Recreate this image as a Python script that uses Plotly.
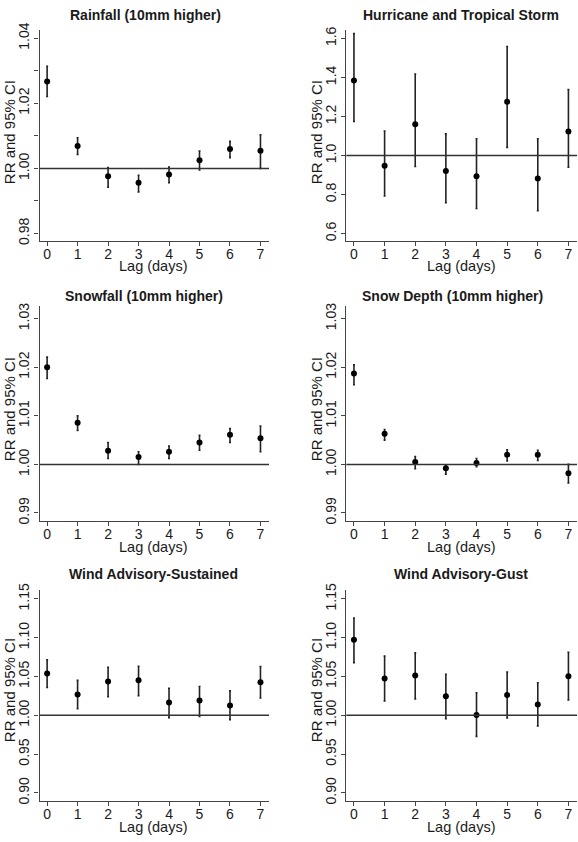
import plotly.graph_objects as go

lags = [0, 1, 2, 3, 4, 5, 6, 7]

titles = [
    "Rainfall (10mm higher)",
    "Hurricane and Tropical Storm",
    "Snowfall (10mm higher)",
    "Snow Depth (10mm higher)",
    "Wind Advisory-Sustained",
    "Wind Advisory-Gust",
]

rainfall_rr = [1.0267, 1.0069, 0.9976, 0.9956, 0.9981, 1.0025, 1.0060, 1.0054]
rainfall_lo = [1.0221, 1.0043, 0.9942, 0.9928, 0.9956, 0.9995, 1.0033, 1.0000]
rainfall_hi = [1.0314, 1.0094, 1.0003, 0.9979, 1.0004, 1.0053, 1.0083, 1.0103]

hurricane_rr = [1.385, 0.948, 1.160, 0.921, 0.894, 1.276, 0.882, 1.123]
hurricane_lo = [1.175, 0.793, 0.944, 0.758, 0.729, 1.042, 0.717, 0.941]
hurricane_hi = [1.625, 1.126, 1.418, 1.111, 1.086, 1.559, 1.086, 1.338]

snowfall_rr = [1.0200, 1.0086, 1.0028, 1.0015, 1.0026, 1.0045, 1.0061, 1.0054]
snowfall_lo = [1.0177, 1.0070, 1.0012, 1.0000, 1.0012, 1.0029, 1.0045, 1.0026]
snowfall_hi = [1.0221, 1.0100, 1.0045, 1.0026, 1.0038, 1.0060, 1.0074, 1.0079]

snowdepth_rr = [1.0187, 1.0063, 1.0005, 0.9992, 1.0003, 1.0020, 1.0020, 0.9982]
snowdepth_lo = [1.0164, 1.0050, 0.9991, 0.9980, 0.9995, 1.0007, 1.0008, 0.9962]
snowdepth_hi = [1.0205, 1.0072, 1.0016, 0.9999, 1.0012, 1.0030, 1.0029, 1.0000]

sustained_rr = [1.0540, 1.0270, 1.0435, 1.0451, 1.0165, 1.0190, 1.0127, 1.0426]
sustained_lo = [1.0359, 1.0084, 1.0240, 1.0253, 0.9970, 0.9987, 0.9945, 1.0224]
sustained_hi = [1.0717, 1.0451, 1.0620, 1.0633, 1.0350, 1.0371, 1.0316, 1.0629]

gust_rr = [1.0975, 1.0475, 1.0513, 1.0246, 1.0004, 1.0263, 1.0140, 1.0504]
gust_lo = [1.0680, 1.0186, 1.0212, 0.9958, 0.9729, 0.9966, 0.9864, 1.0199]
gust_hi = [1.1255, 1.0763, 1.0805, 1.0530, 1.0292, 1.0559, 1.0420, 1.0814]

series = [
    (rainfall_rr, rainfall_lo, rainfall_hi),
    (hurricane_rr, hurricane_lo, hurricane_hi),
    (snowfall_rr, snowfall_lo, snowfall_hi),
    (snowdepth_rr, snowdepth_lo, snowdepth_hi),
    (sustained_rr, sustained_lo, sustained_hi),
    (gust_rr, gust_lo, gust_hi),
]

y_ranges = [
    [0.9776, 1.0424],
    [0.5606, 1.6414],
    [0.98828, 1.03255],
    [0.98828, 1.03255],
    [0.8898, 1.1612],
    [0.8898, 1.1612],
]
y_ticks = [
    [0.98, 1.00, 1.02, 1.04],
    [0.6, 0.8, 1.0, 1.2, 1.4, 1.6],
    [0.99, 1.00, 1.01, 1.02, 1.03],
    [0.99, 1.00, 1.01, 1.02, 1.03],
    [0.90, 0.95, 1.00, 1.05, 1.10, 1.15],
    [0.90, 0.95, 1.00, 1.05, 1.10, 1.15],
]
y_fmt = [".2f", ".1f", ".2f", ".2f", ".2f", ".2f"]
ref_value = 1.0

W, H = 578, 842
FONT = "Arial, Liberation Sans, sans-serif"
INK = "#1a1a1a"
LINE = "#444444"

# pixel geometry of plot areas (left, right, top, bottom)
cols = [(39.5, 269.0), (346.3, 577.0)]
rows = [(22.7, 236.7), (302.7, 520.7), (590.7, 804.3)]

title_pos = [(145, 7), (461, 7), (144, 292), (452, 292), (153, 574), (461, 574)]
ytitle_x = [9, 316]
ytitle_y = [126, 407, 692]
xtitle_y = [262, 547, 831]
xtitle_x = [153, 461]

fig = go.Figure()
layout = dict(
    width=W, height=H,
    margin=dict(l=0, r=0, t=0, b=0),
    paper_bgcolor="white", plot_bgcolor="white",
    showlegend=False,
    font=dict(family=FONT, color=INK, size=14),
)
annotations = []
shapes = []

for i, (rr, lo, hi) in enumerate(series):
    r, c = divmod(i, 2)
    ax = "" if i == 0 else str(i + 1)
    xa, ya = "x" + ax, "y" + ax
    plus = [h - v for h, v in zip(hi, rr)]
    minus = [v - l for v, l in zip(rr, lo)]
    fig.add_trace(go.Scatter(
        x=lags, y=rr, mode="markers", xaxis=xa, yaxis=ya, cliponaxis=False,
        marker=dict(color="black", size=6),
        error_y=dict(type="data", symmetric=False, array=plus, arrayminus=minus,
                     color="#222222", thickness=1.6, width=1),
    ))
    l, rgt = cols[c]
    top, bot = rows[r]
    xdom = [l / W, rgt / W]
    ydom = [1 - bot / H, 1 - top / H]
    layout["xaxis" + ax] = dict(
        domain=xdom, anchor=ya, range=[-0.25, 7.28],
        tickvals=lags, ticks="outside", ticklen=4, tickwidth=1, tickcolor=LINE,
        ticklabelstandoff=-4,
        showline=True, linecolor=LINE, linewidth=1.2, showgrid=False, zeroline=False,
        tickfont=dict(size=14, family=FONT, color=INK),
    )
    yax = dict(
        domain=ydom, anchor=xa, range=y_ranges[i],
        tickvals=y_ticks[i], tickformat=y_fmt[i], tickangle=-90,
        ticks="outside", ticklen=4, tickwidth=1, tickcolor=LINE,
        showline=True, linecolor=LINE, linewidth=1.2, showgrid=False, zeroline=False,
        tickfont=dict(size=14, family=FONT, color=INK),
    )
    if i == 0:
        yax["minor"] = dict(tickvals=[0.99, 1.01, 1.03], ticks="outside", ticklen=4,
                            tickcolor=LINE, showgrid=False)
    layout["yaxis" + ax] = yax
    shapes.append(dict(type="line", xref=xa + " domain", yref=ya,
                       x0=0, x1=1, y0=ref_value, y1=ref_value,
                       line=dict(color="#333333", width=1.5)))
    tx, ty = title_pos[i]
    annotations.append(dict(text="<b>" + titles[i] + "</b>", x=tx / W, y=1 - ty / H,
                            xref="paper", yref="paper", showarrow=False,
                            xanchor="center", yanchor="middle",
                            font=dict(size=14, family=FONT, color=INK)))
    annotations.append(dict(text="RR and 95% CI", x=ytitle_x[c] / W, y=1 - ytitle_y[r] / H,
                            xref="paper", yref="paper", showarrow=False, textangle=-90,
                            xanchor="center", yanchor="middle",
                            font=dict(size=15, family=FONT, color=INK)))
    annotations.append(dict(text="Lag (days)", x=xtitle_x[c] / W, y=1 - xtitle_y[r] / H,
                            xref="paper", yref="paper", showarrow=False,
                            xanchor="center", yanchor="middle",
                            font=dict(size=14.5, family=FONT, color=INK)))

layout["annotations"] = annotations
layout["shapes"] = shapes
fig.update_layout(**layout)
fig.write_html(
    "out.html",
    config={"displayModeBar": False},
    post_script="document.body.style.margin='0';document.body.style.overflow='hidden';",
)
